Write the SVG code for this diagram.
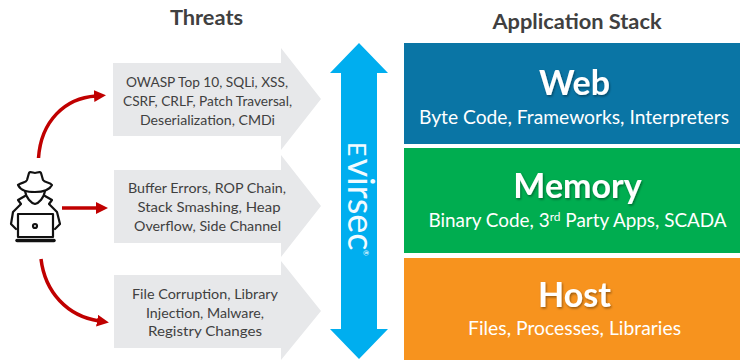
<svg xmlns="http://www.w3.org/2000/svg" width="740" height="360" viewBox="0 0 740 360">
<style>
text{font-family:Lato,"Open Sans",Carlito,sans-serif;text-anchor:middle}
.head{font-size:21.8px;font-weight:700;fill:#404040}
.threat{font-size:14.2px;fill:#404040}
.gray{fill:#e7e8ea}
.title{font-size:34px;font-weight:700;fill:#fff;filter:url(#sh)}
.sub{font-size:18.9px;fill:#fff}
.logo{fill:#f2fbff;font-weight:400;text-anchor:start}
.conn{fill:none;stroke:#c00000;stroke-width:3.5}
.ico{fill:none;stroke:#111;stroke-width:2.2;stroke-linejoin:round;stroke-linecap:round}
</style>
<defs>
<marker id="ah" markerUnits="userSpaceOnUse" markerWidth="12" markerHeight="13" refX="2" refY="6" orient="auto"><path d="M0 0L12 6L0 12Z" fill="#c00000"/></marker>
<filter id="sh" x="-10%" y="-10%" width="120%" height="130%"><feDropShadow dx="1" dy="1.5" stdDeviation="1" flood-color="#000" flood-opacity=".4"/></filter>
</defs>
<text class="head" x="206.500" y="25">Threats</text>
<text class="head" x="577" y="29">Application Stack</text>
<g id="threat-1"><path class="gray" d="M113 63H281V48L321 99L281 150V136H113Z"/>
<text class="threat" x="207" y="87" textLength="162" lengthAdjust="spacingAndGlyphs">OWASP Top 10, SQLi, XSS,</text><text class="threat" x="207.500" y="106" textLength="169" lengthAdjust="spacingAndGlyphs">CSRF, CRLF, Patch Traversal,</text><text class="threat" x="207.500" y="125" textLength="135" lengthAdjust="spacingAndGlyphs">Deserialization, CMDi</text></g>
<g id="threat-2"><path class="gray" d="M114 170H281V155L321 206L281 257V243H114Z"/>
<text class="threat" x="207" y="193" textLength="158" lengthAdjust="spacingAndGlyphs">Buffer Errors, ROP Chain,</text><text class="threat" x="209" y="212" textLength="143" lengthAdjust="spacingAndGlyphs">Stack Smashing, Heap</text><text class="threat" x="207.500" y="231" textLength="147" lengthAdjust="spacingAndGlyphs">Overflow, Side Channel</text></g>
<g id="threat-3"><path class="gray" d="M114 275H281V261L321 311L281 360V348H114Z"/>
<text class="threat" x="205" y="299" textLength="146" lengthAdjust="spacingAndGlyphs">File Corruption, Library</text><text class="threat" x="205" y="318" textLength="118" lengthAdjust="spacingAndGlyphs">Injection, Malware,</text><text class="threat" x="205" y="336" textLength="114" lengthAdjust="spacingAndGlyphs">Registry Changes</text></g>
<g id="attacker" class="ico">
<path d="M18 185C22 182 26 183 27 180L29 173C30 171 33 173 35 173C37 173 40 171 41 173L43 180C45 183 50 182 52 185C49 191 42 192 35 192C27 192 21 191 18 185Z"/>
<path d="M25 191C26 198 31 203 35 204C39 203 44 198 45 191"/>
<path d="M25 196L18 200L21 204L13 212L11 224L16 229M45 196L52 200L49 204L57 212L60 224L55 229"/>
<path d="M18 214H53V237H18Z"/>
<path d="M17 240.500H54" stroke-width="3.500"/>
<circle cx="35" cy="226" r="2"/>
</g>
<g id="connectors">
<path class="conn" d="M38.500 158C41 121 65 98 96 96" marker-end="url(#ah)"/>
<path class="conn" d="M62 208H98" marker-end="url(#ah)"/>
<path class="conn" d="M41 259C45 292 67 316 99 321" marker-end="url(#ah)"/>
</g>
<g id="virsec"><path fill="#00aeef" d="M359 43L388 73H377V329H388L359 359L330 329H341V73H330Z"/>
<text class="logo" transform="translate(348 142) rotate(90)"><tspan font-size="25">E</tspan><tspan font-size="36" dx="2">virsec</tspan></text>
<text class="logo" transform="translate(363 250) rotate(90)" style="font-size:7px">®</text></g>
<g id="web"><rect x="404" y="43" width="336" height="101" fill="#0a75a5"/>
<text class="title" x="574.500" y="95">Web</text><text class="sub" x="574" y="124" textLength="310" lengthAdjust="spacingAndGlyphs">Byte Code, Frameworks, Interpreters</text></g>
<g id="memory"><rect x="404" y="148" width="336" height="105" fill="#00ad50"/>
<text class="title" x="577.500" y="198">Memory</text><text class="sub" x="577.500" y="227">Binary Code, 3<tspan font-size="12" dy="-6">rd</tspan><tspan dy="6"> Party Apps, SCADA</tspan></text></g>
<g id="host"><rect x="404" y="258" width="336" height="102" fill="#f7931e"/>
<text class="title" x="574.500" y="307">Host</text><text class="sub" x="574.500" y="335" textLength="213" lengthAdjust="spacingAndGlyphs">Files, Processes, Libraries</text></g>
</svg>
